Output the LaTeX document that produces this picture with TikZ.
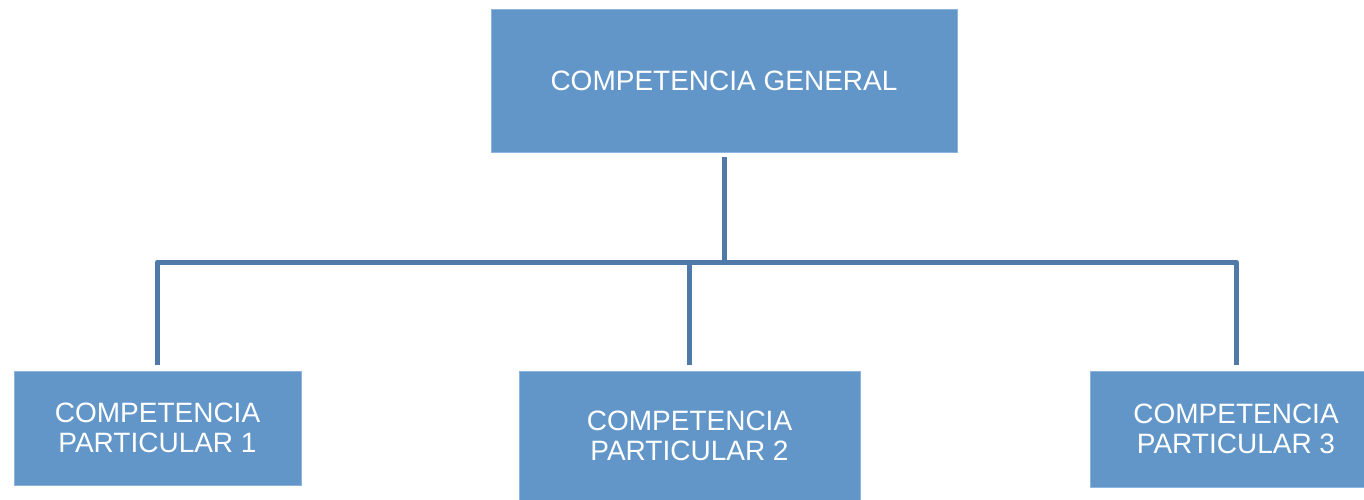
\documentclass[tikz,border=0pt]{standalone}
\usepackage{fontspec}
\setmainfont{Liberation Sans}
\definecolor{boxfill}{RGB}{98,150,200}
\definecolor{boxedge}{RGB}{140,180,222}
\definecolor{linecol}{RGB}{79,122,168}
\tikzset{
  cbox/.style={rectangle, fill=boxfill, draw=boxedge, line width=0.6pt, inner sep=0pt, text=white, font=\fontsize{28}{30}\selectfont, align=center},
  ctext/.style={text=white, font=\fontsize{28}{30}\selectfont, align=center, inner sep=0pt},
  conn/.style={draw=linecol, line width=5pt, line join=round}
}
\begin{document}
\begin{tikzpicture}[x=1pt,y=-1pt]
\useasboundingbox (0,0) rectangle (1364,500);
\node[cbox, minimum width=466pt, minimum height=143pt] (g) at (724,80.5) {COMPETENCIA GENERAL};
\node[cbox, minimum width=287pt, minimum height=114pt] (b1) at (157.5,428) {COMPETENCIA\\PARTICULAR 1};
\node[cbox, minimum width=341pt, minimum height=130pt] (b2) at (689.5,436) {COMPETENCIA\\PARTICULAR 2};
\node[cbox, minimum width=276pt, minimum height=116pt] (b3) at (1228,429) {};
\node[ctext] (t3) at (1236,429) {COMPETENCIA\\PARTICULAR 3};
\coordinate (bus) at (0,262);
\draw[conn] ([yshift=-5pt]g.south) -- (g.south |- bus);
\draw[conn] ([yshift=6pt]b1.north) -- (b1.north |- bus) -- (t3.center |- bus) -- ([yshift=6pt]t3.center |- b3.north);
\draw[conn] (b2.north |- bus) -- ([yshift=6pt]b2.north);
\end{tikzpicture}
\end{document}
